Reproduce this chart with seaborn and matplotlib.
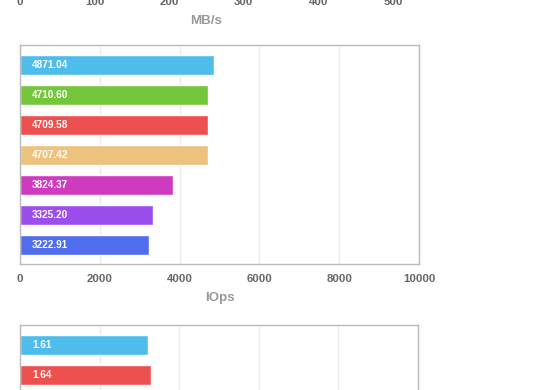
import matplotlib
matplotlib.use("Agg")
import matplotlib.pyplot as plt
import seaborn as sns

# IOps panel
iops_names = ["r1", "r2", "r3", "r4", "r5", "r6", "r7"]
iops_values = [4871.04, 4710.60, 4709.58, 4707.42, 3824.37, 3325.20, 3222.91]
iops_colors = ["#4FBDEC", "#74C63A", "#EE5050", "#EDC27E", "#CF3BBE", "#9B4EEC", "#4F6DEC"]

# third panel (only top two bars visible)
lat_names = ["r1", "r3"]
lat_values = [1.61, 1.64]
lat_colors = ["#4FBDEC", "#EE5050"]

sns.set_style("white")
plt.rcParams['font.family'] = ['Liberation Sans', 'DejaVu Sans']

W, H = 560, 390
fig = plt.figure(figsize=(5.6, 3.9), dpi=100)


def add_ax(left, top, width, height):
    return fig.add_axes([left / W, (H - top - height) / H, width / W, height / H])


def style(ax, xmax, ticks, label):
    ax.set_xlim(0, xmax)
    ax.set_xticks(ticks)
    ax.set_yticks([])
    ax.set_ylabel("")
    ax.set_ylim(6.633, -0.667)
    ax.set_xlabel(label, color="#999999", fontsize=9.6, fontweight="bold", labelpad=6)
    ax.grid(axis="x", color="#EBEBEB", lw=1)
    ax.set_axisbelow(True)
    for s in ax.spines.values():
        s.set_color("#BBBBBB")
        s.set_linewidth(1)
    ax.tick_params(axis="x", length=0, pad=7, labelsize=8.2, labelcolor="#666666")
    for t in ax.get_xticklabels():
        t.set_fontweight("bold")


def bars(ax, names, values, colors):
    sns.barplot(x=values, y=names, hue=names, palette=colors, width=0.667,
                legend=False, ax=ax, saturation=1, orient="h")
    for i, v in enumerate(values):
        ax.text(0.03, i, "{:.2f}".format(v), transform=ax.get_yaxis_transform(),
                color="white", fontsize=7.2, fontweight="bold", va="center", ha="left")


# top panel (cut off above, only its axis labels show)
ax0 = add_ax(20, -232, 373, 219)
style(ax0, 500, [0, 100, 200, 300, 400, 500], "MB/s")

# IOps panel
ax1 = add_ax(20, 45, 399, 219)
bars(ax1, iops_names, iops_values, iops_colors)
style(ax1, 10000, [0, 2000, 4000, 6000, 8000, 10000], "IOps")

# third panel (cut off below)
ax2 = add_ax(20, 325, 398, 219)
bars(ax2, lat_names, lat_values, lat_colors)
style(ax2, 5, [0, 1, 2, 3, 4, 5], "")

fig.savefig("out.png", dpi=100)
